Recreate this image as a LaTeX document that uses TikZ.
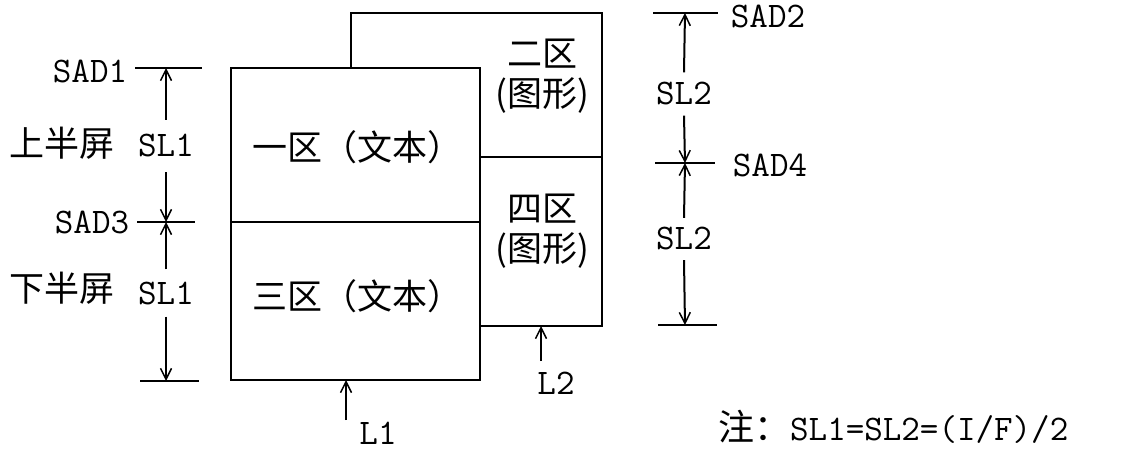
\documentclass[tikz,border=0pt]{standalone}
\usepackage{fontspec}
\newfontfamily\cjk{Noto Sans CJK SC}
\usetikzlibrary{arrows.meta}
\tikzset{
  zline/.style={line width=2.5pt, line join=miter},
  darr/.style={-{Straight Barb[length=11pt,width=11pt,line width=1.5pt]}, line width=2pt},
  dtick/.style={line width=2pt},
  dlbl/.style={inner sep=0pt, minimum height=#1, font=\ttfamily\fontsize{36}{40}\selectfont},
  dlbl/.default=0pt,
  clbl/.style={inner sep=0pt, font=\cjk\fontsize{35}{40}\selectfont},
  ztxt/.style={clbl, align=center},
}

\begin{document}
\begin{tikzpicture}[x=1pt,y=-1pt]
\useasboundingbox (0,0) rectangle (1135,452);
% zones
\draw[zline] (351,68) -- (351,13) -- (602,13) -- (602,326) -- (480,326);
\draw[zline] (480,157) -- (602,157);
\draw[zline] (231,68) rectangle (480,380);
\draw[zline] (231,222) -- (480,222);
\node[ztxt] (z1) at (357,147) {一区（文本）};
\node[ztxt] (z3) at (357,296) {三区（文本）};
\node[ztxt] (z2) at (542,76) {二区\\(图形)};
\node[ztxt] (z4) at (542,231) {四区\\(图形)};

% left dimension
\coordinate (p1) at (166,68);
\coordinate (p3) at (166,222);
\coordinate (p5) at (166,381);
\draw[dtick] ([xshift=-31pt]p1) -- ([xshift=36pt]p1);
\draw[dtick] ([xshift=-29pt]p3) -- ([xshift=29pt]p3);
\draw[dtick] ([xshift=-26pt]p5) -- ([xshift=33pt]p5);
\node[dlbl=52pt] (sl1a) at (166,146) {SL1};
\node[dlbl=47pt] (sl1b) at (166,293) {SL1};
\draw[darr] (sl1a.north) -- (p1);
\draw[darr] (sl1a.south) -- (p3);
\draw[darr] (sl1b.north) -- (p3);
\draw[darr] (sl1b.south) -- (p5);
\node[dlbl] (sad1) at (90,71) {SAD1};
\node[dlbl] (sad3) at (92,222) {SAD3};
\node[clbl] (upper) at (62,143) {上半屏};
\node[clbl] (lower) at (62,288) {下半屏};

% right dimension
\coordinate (p2) at (685,13);
\coordinate (p4) at (685,163);
\coordinate (p6) at (685,325);
\draw[dtick] ([xshift=-32pt]p2) -- ([xshift=33pt]p2);
\draw[dtick] ([xshift=-30pt]p4) -- ([xshift=30pt]p4);
\draw[dtick] ([xshift=-27pt]p6) -- ([xshift=32pt]p6);
\node[dlbl=43pt] (sl2a) at (684,94) {SL2};
\node[dlbl=42pt] (sl2b) at (684,239) {SL2};
\draw[darr] (sl2a.north) -- (p2);
\draw[darr] (sl2a.south) -- (p4);
\draw[darr] (sl2b.north) -- (p4);
\draw[darr] (sl2b.south) -- (p6);
\node[dlbl] (sad2) at (768,16) {SAD2};
\node[dlbl] (sad4) at (770,165) {SAD4};

% widths
\coordinate (l1h) at (346,380);
\coordinate (l1t) at (346,420);
\draw[darr] (l1t) -- (l1h);
\node[dlbl] (l1) at (378,433) {L1};
\coordinate (l2h) at (541,326);
\coordinate (l2t) at (541,361);
\draw[darr] (l2t) -- (l2h);
\node[dlbl] (l2) at (556,383) {L2};

\node[dlbl, anchor=west] (note) at (718,427) {{\cjk 注：}SL1=SL2=(I/F)/2};
\end{tikzpicture}
\end{document}
